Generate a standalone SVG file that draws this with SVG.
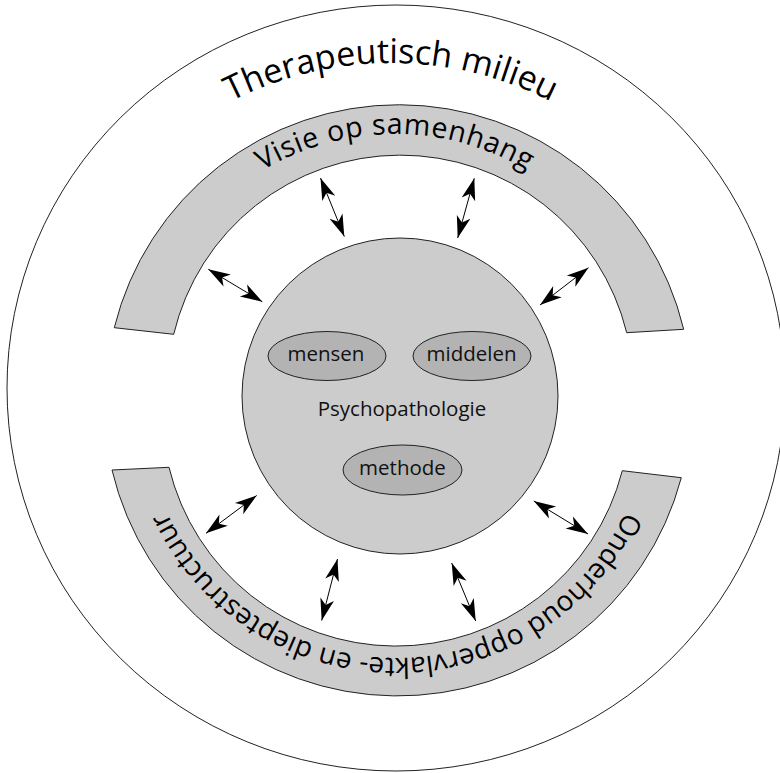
<svg xmlns="http://www.w3.org/2000/svg" xmlns:xlink="http://www.w3.org/1999/xlink" width="780" height="773" viewBox="0 0 780 773">
<style>
.band{fill:#cccccc;stroke:#222;stroke-width:1}
.core{fill:#cccccc;stroke:#222;stroke-width:1}
.ell{fill:#b3b3b3;stroke:#222;stroke-width:1}
.lbl{font-family:"Open Sans","Noto Sans","DejaVu Sans",sans-serif;font-size:20.5px;fill:#111;text-anchor:middle}
.arc{font-family:"Open Sans","Noto Sans","DejaVu Sans",sans-serif;fill:#000}
.conn line{stroke:#000;stroke-width:1;marker-start:url(#ah);marker-end:url(#ah)}
</style>
<defs>
<marker id="ah" viewBox="-24 -9 26 18" refX="0" refY="0" markerWidth="26" markerHeight="18" markerUnits="userSpaceOnUse" orient="auto-start-reverse">
<path d="M0,0 L-22,-7 L-16,0 L-22,7 Z" fill="#000"/>
</marker>
<path id="pTher" d="M39,415 A352,352 0 0 1 743,415"/>
<path id="pVisie" d="M136,393 A259,259 0 0 1 654,393"/>
<path id="pOnder" d="M649,405 A253,253 0 0 1 143,405"/>
</defs>
<rect width="780" height="773" fill="#fff"/>
<g id="milieu">
<ellipse cx="396" cy="388" rx="389" ry="383" fill="none" stroke="#222" stroke-width="1"/>
<text class="arc" font-size="34"><textPath xlink:href="#pTher" href="#pTher" startOffset="50%" text-anchor="middle">Therapeutisch milieu</textPath></text>
</g>
<g id="visie">
<path class="band" d="M114.3,327.7 A293,293 0 0 1 683.7,329.3 L626.7,332.7 A233,233 0 0 0 173.7,334.3 Z"/>
<text class="arc" font-size="28.5" letter-spacing="0.7"><textPath xlink:href="#pVisie" href="#pVisie" startOffset="50%" text-anchor="middle">Visie op samenhang</textPath></text>
</g>
<g id="onderhoud">
<path class="band" d="M681.3,477.7 A293.5,293.5 0 0 1 112,470 L169,467.3 A233.6,233.6 0 0 0 622.3,470.7 Z"/>
<text class="arc" font-size="28"><textPath xlink:href="#pOnder" href="#pOnder" startOffset="50%" text-anchor="middle">Onderhoud oppervlakte- en dieptestructuur</textPath></text>
</g>
<g id="psychopathologie">
<circle class="core" cx="400" cy="396" r="158"/>
<text class="lbl" x="402" y="416">Psychopathologie</text>
</g>
<g id="mensen">
<ellipse class="ell" cx="327" cy="356" rx="59" ry="24.5"/>
<text class="lbl" x="326" y="361">mensen</text>
</g>
<g id="middelen">
<ellipse class="ell" cx="472" cy="356" rx="59" ry="24.5"/>
<text class="lbl" x="471.5" y="361">middelen</text>
</g>
<g id="methode">
<ellipse class="ell" cx="402.5" cy="470" rx="59.5" ry="25"/>
<text class="lbl" x="402.5" y="475">methode</text>
</g>
<g id="connectors" class="conn">
<line x1="208.3" y1="269.3" x2="262.3" y2="301.7"/>
<line x1="320.5" y1="178" x2="344.3" y2="236.5"/>
<line x1="474.3" y1="178.3" x2="457.7" y2="238"/>
<line x1="588.5" y1="267.7" x2="540" y2="305"/>
<line x1="533.8" y1="501" x2="588" y2="534"/>
<line x1="451.7" y1="563" x2="475.7" y2="621"/>
<line x1="337.5" y1="559" x2="321.7" y2="620.5"/>
<line x1="256.7" y1="495.5" x2="206" y2="533.3"/>
</g>
</svg>
